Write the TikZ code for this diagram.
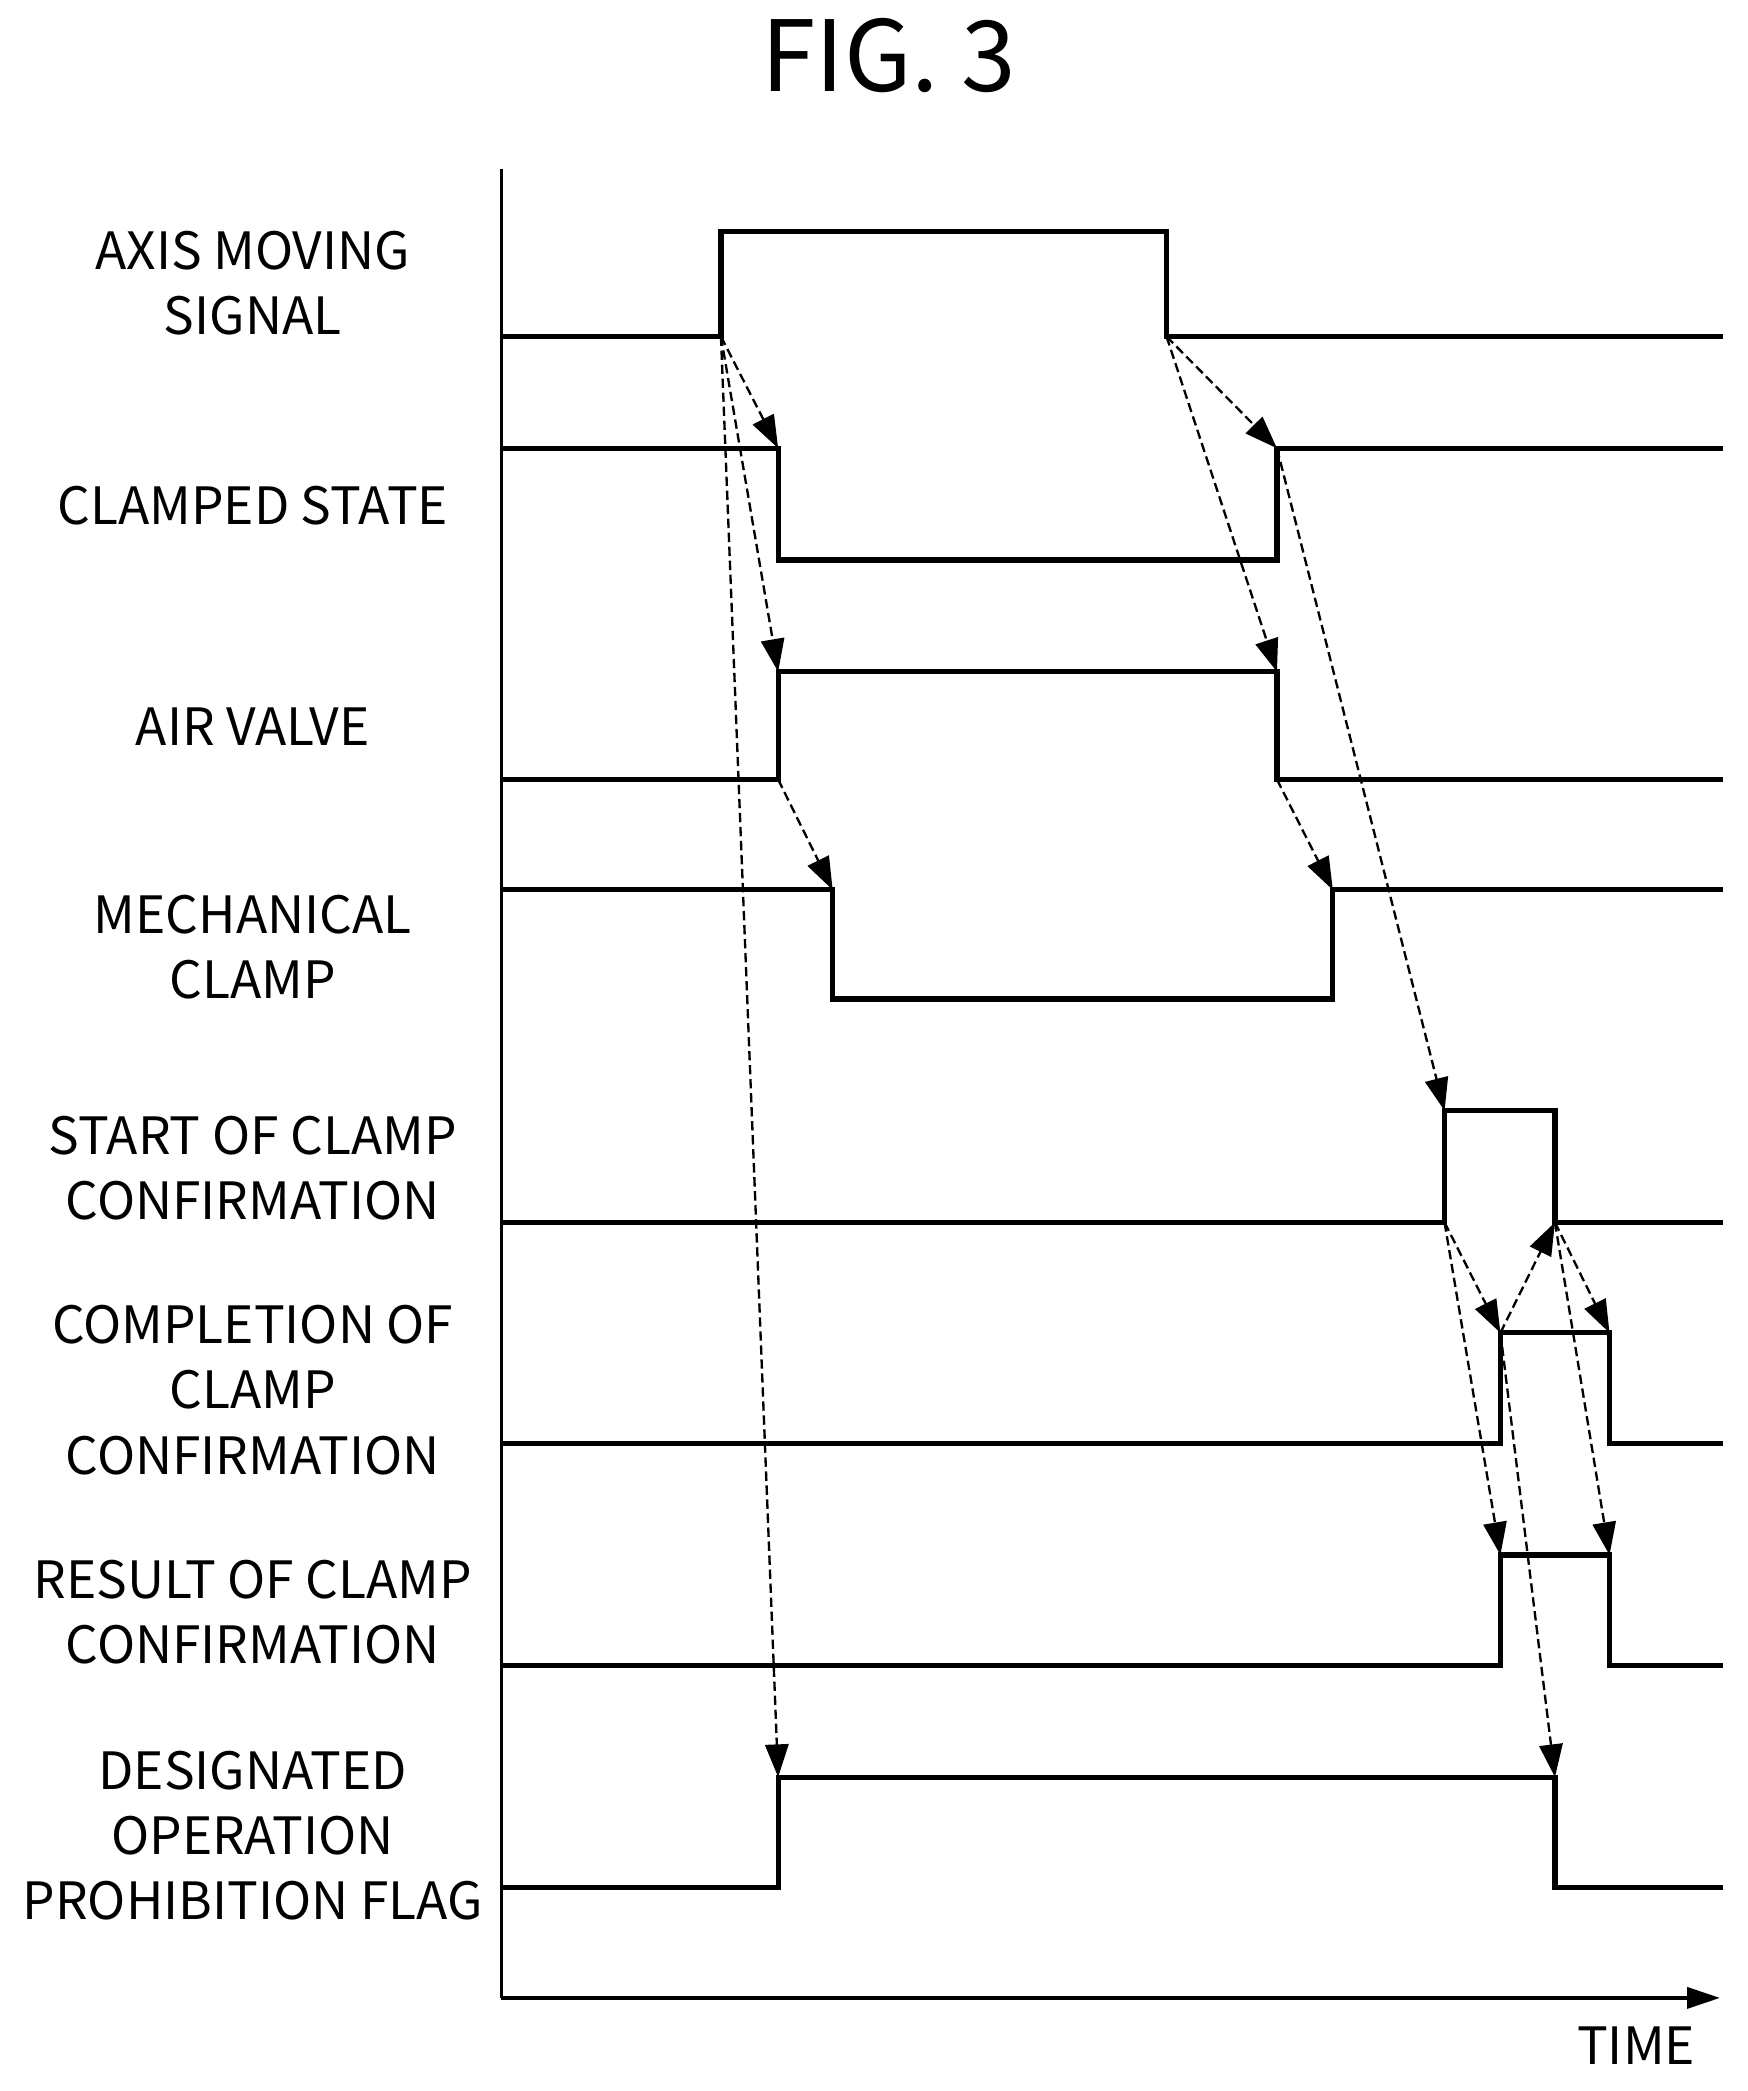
\documentclass[tikz,border=0pt]{standalone}
\usepackage{fontspec}
\setmainfont{Noto Sans CJK JP}
\usetikzlibrary{arrows.meta}
\begin{document}
\begin{tikzpicture}[x=0.02cm,y=-0.02cm,
 sig/.style={line width=2.2pt,line join=miter},
 dep/.style={line width=1pt,dash pattern=on 4pt off 2pt,-{Triangle[length=14pt,width=10pt]}},
 lab/.style={font=\fontsize{22}{28}\selectfont,align=center}]
\useasboundingbox (0,0) rectangle (1314,1572);
\node[font=\fontsize{42}{50}\selectfont] (title) at (668,42) {FIG. 3};
\coordinate (o) at (377,1502);
\coordinate (top) at (377,127);
\coordinate (xe) at (1293,1502);
\draw[line width=1.4pt] (top) -- (o);
\draw[line width=1.4pt,-{Triangle[length=14pt,width=9pt]}] (o) -- (xe);
\node[lab] (time) at (1230,1538) {TIME};
% labels
\node[lab] (l1) at (190,213) {AXIS MOVING\\SIGNAL};
\node[lab] (l2) at (190,380) {CLAMPED STATE};
\node[lab] (l3) at (190,546) {AIR VALVE};
\node[lab] (l4) at (190,712) {MECHANICAL\\CLAMP};
\node[lab] (l5) at (190,878) {START OF CLAMP\\CONFIRMATION};
\node[lab] (l6) at (190,1045) {COMPLETION OF\\CLAMP\\CONFIRMATION};
\node[lab] (l7) at (190,1212) {RESULT OF CLAMP\\CONFIRMATION};
\node[lab] (l8) at (190,1380) {DESIGNATED\\OPERATION\\PROHIBITION FLAG};
% signals
\draw[sig] (377,253) -- (542,253) -- (542,174) -- (877,174) -- (877,253) -- (1295,253);
\draw[sig] (377,337) -- (585,337) -- (585,421) -- (960,421) -- (960,337) -- (1295,337);
\draw[sig] (377,586) -- (585,586) -- (585,505) -- (960,505) -- (960,586) -- (1295,586);
\draw[sig] (377,669) -- (626,669) -- (626,751) -- (1002,751) -- (1002,669) -- (1295,669);
\draw[sig] (377,919) -- (1086,919) -- (1086,835) -- (1169,835) -- (1169,919) -- (1295,919);
\draw[sig] (377,1085) -- (1128,1085) -- (1128,1002) -- (1210,1002) -- (1210,1085) -- (1295,1085);
\draw[sig] (377,1252) -- (1128,1252) -- (1128,1169) -- (1210,1169) -- (1210,1252) -- (1295,1252);
\draw[sig] (377,1419) -- (585,1419) -- (585,1336) -- (1169,1336) -- (1169,1419) -- (1295,1419);
% event points
\coordinate (a1) at (542,253); \coordinate (a2) at (877,253);
\coordinate (c1) at (585,337); \coordinate (c2) at (960,337);
\coordinate (v1t) at (585,505); \coordinate (v1) at (585,586);
\coordinate (v2t) at (960,505); \coordinate (v2) at (960,586);
\coordinate (m1) at (626,669); \coordinate (m2) at (1002,669);
\coordinate (s1t) at (1086,835); \coordinate (s1) at (1086,919); \coordinate (s2) at (1169,919);
\coordinate (p1) at (1128,1002); \coordinate (p2) at (1210,1002);
\coordinate (r1) at (1128,1169); \coordinate (r2) at (1210,1169);
\coordinate (f1) at (585,1336); \coordinate (f2) at (1169,1336);
% dependencies
\draw[dep] (a1) -- (c1);
\draw[dep] (a1) -- (v1t);
\draw[dep] (a1) -- (f1);
\draw[dep] (v1) -- (m1);
\draw[dep] (a2) -- (c2);
\draw[dep] (a2) -- (v2t);
\draw[dep] (c2) -- (s1t);
\draw[dep] (v2) -- (m2);
\draw[dep] (s1) -- (p1);
\draw[dep] (s1) -- (r1);
\draw[dep] (p1) -- (s2);
\draw[dep] (s2) -- (p2);
\draw[dep] (s2) -- (r2);
\draw[dep] (p1) -- (f2);
\end{tikzpicture}
\end{document}
